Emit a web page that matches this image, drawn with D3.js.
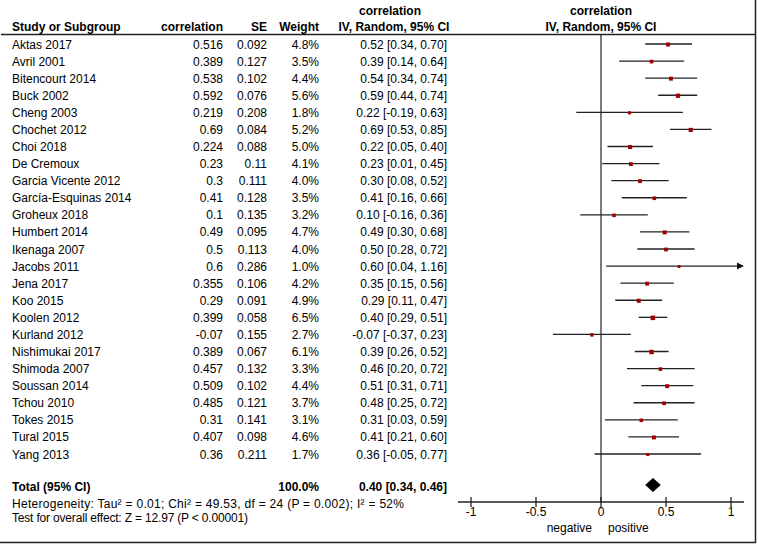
<!DOCTYPE html>
<html>
<head>
<meta charset="utf-8">
<script src="https://cdn.jsdelivr.net/npm/d3@7/dist/d3.min.js"></script>
<style>
  html, body { margin: 0; padding: 0; background: #fff; }
  svg { display: block; }
  text { font-family: "Liberation Sans", Arial, sans-serif; font-size: 12px; fill: #000; }
  .b { font-weight: bold; }
</style>
</head>
<body>
<svg id="chart" width="758" height="546"></svg>
<script>
const studies = ["Aktas 2017","Avril 2001","Bitencourt 2014","Buck 2002","Cheng 2003","Chochet 2012","Choi 2018","De Cremoux","Garcia Vicente 2012","García-Esquinas 2014","Groheux 2018","Humbert 2014","Ikenaga 2007","Jacobs 2011","Jena 2017","Koo 2015","Koolen 2012","Kurland 2012","Nishimukai 2017","Shimoda 2007","Soussan 2014","Tchou 2010","Tokes 2015","Tural 2015","Yang 2013"];
const correlation = [0.516,0.389,0.538,0.592,0.219,0.69,0.224,0.23,0.3,0.41,0.1,0.49,0.5,0.6,0.355,0.29,0.399,-0.07,0.389,0.457,0.509,0.485,0.31,0.407,0.36];
const se = [0.092,0.127,0.102,0.076,0.208,0.084,0.088,0.11,0.111,0.128,0.135,0.095,0.113,0.286,0.106,0.091,0.058,0.155,0.067,0.132,0.102,0.121,0.141,0.098,0.211];
const weight = [4.8,3.5,4.4,5.6,1.8,5.2,5.0,4.1,4.0,3.5,3.2,4.7,4.0,1.0,4.2,4.9,6.5,2.7,6.1,3.3,4.4,3.7,3.1,4.6,1.7];
const estimate = [0.52,0.39,0.54,0.59,0.22,0.69,0.22,0.23,0.30,0.41,0.10,0.49,0.50,0.60,0.35,0.29,0.40,-0.07,0.39,0.46,0.51,0.48,0.31,0.41,0.36];
const lower = [0.34,0.14,0.34,0.44,-0.19,0.53,0.05,0.01,0.08,0.16,-0.16,0.30,0.28,0.04,0.15,0.11,0.29,-0.37,0.26,0.20,0.31,0.25,0.03,0.21,-0.05];
const upper = [0.70,0.64,0.74,0.74,0.63,0.85,0.40,0.45,0.52,0.66,0.36,0.68,0.72,1.16,0.56,0.47,0.51,0.23,0.52,0.72,0.71,0.72,0.59,0.60,0.77];
const total = {weight: 100.0, est: 0.40, lo: 0.34, hi: 0.46};
const tickValues = [-1,-0.5,0,0.5,1];
const tickLabels = ["-1","-0.5","0","0.5","1"];
const heterogeneity = "Heterogeneity: Tau² = 0.01; Chi² = 49.53, df = 24 (P = 0.002); I² = 52%";
const overallTest = "Test for overall effect: Z = 12.97 (P < 0.00001)";

const svg = d3.select("#chart");
const x = d3.scaleLinear().domain([-1.1, 1.1]).range([458, 744]);
const y = d3.scalePoint().domain(studies).range([44, 454]);
const f2 = v => v.toFixed(2);
const ci = (e,l,h) => `${f2(e)} [${f2(l)}, ${f2(h)}]`;

// frame lines
svg.append("line").attr("x1",1).attr("x2",755.5).attr("y1",34.5).attr("y2",34.5).attr("stroke","#222").attr("stroke-width",1.5);
svg.append("line").attr("x1",755.5).attr("x2",755.5).attr("y1",0).attr("y2",543).attr("stroke","#222").attr("stroke-width",1.5);
svg.append("line").attr("x1",0).attr("x2",756).attr("y1",542.5).attr("y2",542.5).attr("stroke","#222").attr("stroke-width",1.5);

// headers
const hdr = svg.append("g");
hdr.append("text").attr("x",12).attr("y",31).attr("class","b").text("Study or Subgroup");
hdr.append("text").attr("x",223).attr("y",31).attr("text-anchor","end").attr("class","b").text("correlation");
hdr.append("text").attr("x",267).attr("y",31).attr("text-anchor","end").attr("class","b").text("SE");
hdr.append("text").attr("x",319).attr("y",31).attr("text-anchor","end").attr("class","b").text("Weight");
hdr.append("text").attr("x",390).attr("y",15).attr("text-anchor","middle").attr("class","b").text("correlation");
hdr.append("text").attr("x",394).attr("y",31).attr("text-anchor","middle").attr("class","b").text("IV, Random, 95% CI");
hdr.append("text").attr("x",601).attr("y",15).attr("text-anchor","middle").attr("class","b").text("correlation");
hdr.append("text").attr("x",601).attr("y",31).attr("text-anchor","middle").attr("class","b").text("IV, Random, 95% CI");

// table rows
const rows = svg.append("g").selectAll("g").data(studies).join("g")
  .attr("transform", d => `translate(0,${y(d) + 4.5})`);
rows.append("text").attr("x",12).text(d => d);
rows.append("text").attr("x",223).attr("text-anchor","end").text((d,i) => String(correlation[i]));
rows.append("text").attr("x",267).attr("text-anchor","end").text((d,i) => String(se[i]));
rows.append("text").attr("x",319).attr("text-anchor","end").text((d,i) => weight[i].toFixed(1) + "%");
rows.append("text").attr("x",447).attr("text-anchor","end").text((d,i) => ci(estimate[i], lower[i], upper[i]));

// total row
svg.append("text").attr("x",12).attr("y",491).attr("class","b").text("Total (95% CI)");
svg.append("text").attr("x",319).attr("y",491).attr("text-anchor","end").attr("class","b").text(total.weight.toFixed(1) + "%");
svg.append("text").attr("x",447).attr("y",491).attr("text-anchor","end").attr("class","b").text(ci(total.est, total.lo, total.hi));
svg.append("text").attr("x",12).attr("y",508).attr("textLength",392).attr("lengthAdjust","spacing").text(heterogeneity);
svg.append("text").attr("x",12).attr("y",522).attr("textLength",236).attr("lengthAdjust","spacing").text(overallTest);

// zero line
svg.append("line").attr("x1",x(0)).attr("x2",x(0)).attr("y1",34.5).attr("y2",502).attr("stroke","#222").attr("stroke-width",1.2);

// CI lines
const [dmin, dmax] = x.domain();
const plot = svg.append("g");
plot.selectAll("line.ci").data(studies).join("line").attr("class","ci")
  .attr("x1",(d,i) => x(Math.max(lower[i], dmin)))
  .attr("x2",(d,i) => x(Math.min(upper[i], dmax)) - (upper[i] > dmax ? 5 : 0))
  .attr("y1", d => y(d)).attr("y2", d => y(d))
  .attr("stroke","#222").attr("stroke-width",1.3);
// arrows for truncated
studies.forEach((d,i) => {
  if (upper[i] > dmax) {
    const xe = x(dmax), yy = y(d);
    plot.append("path").attr("d",`M${xe},${yy} L${xe-7},${yy-3.5} L${xe-7},${yy+3.5} Z`).attr("fill","#111");
  }
});
// squares
plot.selectAll("rect.sq").data(studies).join("rect").attr("class","sq")
  .each(function(d,i){
    const s = 2.6 + 0.3 * weight[i];
    d3.select(this).attr("x", x(correlation[i]) - s/2).attr("y", y(d) - s/2 + 0.5)
      .attr("width", s).attr("height", s);
  })
  .attr("fill","#a00000");

// diamond
const dy = 485;
plot.append("path")
  .attr("d", `M${x(total.lo)},${dy} L${x(total.est)},${dy-7} L${x(total.hi)},${dy} L${x(total.est)},${dy+7} Z`)
  .attr("fill","#000");

// axis
const axisY = 502;
const ax = svg.append("g").attr("transform",`translate(0,${axisY})`);
ax.append("line").attr("x1",x(dmin)).attr("x2",x(dmax)).attr("stroke","#222").attr("stroke-width",1.3);
ax.selectAll("line.tk").data(tickValues).join("line").attr("class","tk")
  .attr("x1",d => x(d)).attr("x2",d => x(d)).attr("y1",-5).attr("y2",5)
  .attr("stroke","#222").attr("stroke-width",1.3);
ax.selectAll("text.tl").data(tickValues).join("text").attr("class","tl")
  .attr("x",d => x(d)).attr("y",14).attr("text-anchor","middle")
  .text((d,i) => tickLabels[i]);
svg.append("text").attr("x",x(0)-9).attr("y",532).attr("text-anchor","end").text("negative");
svg.append("text").attr("x",x(0)+7).attr("y",532).text("positive");
</script>
</body>
</html>
